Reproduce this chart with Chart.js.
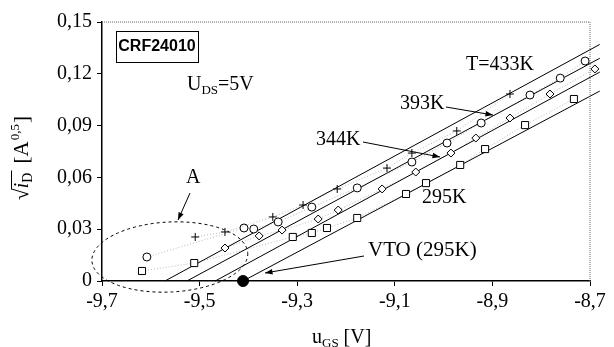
<!DOCTYPE html>
<html>
<head>
<meta charset="utf-8">
<script src="https://cdn.jsdelivr.net/npm/chart.js@4.4.0/dist/chart.umd.min.js"></script>
<style>
html, body { margin: 0; padding: 0; background: #fff; }
</style>
</head>
<body>
<canvas id="myChart" width="614" height="347"></canvas>
<script>
const x433 = [-9.509, -9.448, -9.350, -9.288, -9.218, -9.116, -9.065, -8.973, -8.864];
const y433 = [0.0255, 0.0284, 0.0371, 0.0440, 0.0533, 0.0654, 0.0741, 0.0869, 0.1083];
const x393 = [-9.608, -9.409, -9.389, -9.339, -9.270, -9.177, -9.065, -8.993, -8.923, -8.823, -8.761, -8.710];
const y393 = [0.0139, 0.0307, 0.0301, 0.0342, 0.0428, 0.0539, 0.0689, 0.0799, 0.0915, 0.1077, 0.1175, 0.1274];
const x344 = [-9.448, -9.378, -9.331, -9.257, -9.216, -9.126, -9.057, -8.985, -8.934, -8.864, -8.782, -8.690];
const y344 = [0.0191, 0.0261, 0.0295, 0.0359, 0.0411, 0.0533, 0.0631, 0.0741, 0.0828, 0.0944, 0.1083, 0.1228];
const x295 = [-9.618, -9.511, -9.309, -9.270, -9.239, -9.177, -9.077, -9.036, -8.966, -8.915, -8.833, -8.733];
const y295 = [0.0058, 0.0104, 0.0255, 0.0278, 0.0307, 0.0365, 0.0504, 0.0567, 0.0672, 0.0764, 0.0903, 0.1054];

// straight fits: start on the zero line, end just past the right border
const fitX0 = [-9.571, -9.526, -9.468, -9.411];
const fitX1 = [-8.68, -8.68, -8.68, -8.68];
const fitY1 = [0.137, 0.129, 0.121, 0.110];
const vto295 = -9.411;

const xTicks = [-9.7, -9.5, -9.3, -9.1, -8.9, -8.7];
const yTicks = [0, 0.03, 0.06, 0.09, 0.12, 0.15];

const toPts = (xs, ys) => xs.map((x, i) => ({ x: x, y: ys[i] }));

function markers(xs, ys, style, radius) {
    return {
        data: toPts(xs, ys),
        pointStyle: style,
        pointRadius: radius,
        pointBorderColor: '#000',
        pointBackgroundColor: '#fff',
        pointBorderWidth: 1,
        showLine: true,
        borderColor: 'rgba(0,0,0,0.28)',
        borderWidth: 1,
        borderDash: [1, 2],
        clip: false
    };
}

function fitLine(i) {
    return {
        data: [{ x: fitX0[i], y: 0 }, { x: fitX1[i], y: fitY1[i] }],
        showLine: true,
        borderColor: '#000',
        borderWidth: 1,
        pointRadius: 0,
        clip: false
    };
}

const serif = '"Liberation Serif", "Times New Roman", serif';

function arrow(ctx, x0, y0, x1, y1) {
    const a = Math.atan2(y1 - y0, x1 - x0);
    ctx.beginPath();
    ctx.moveTo(x0, y0);
    ctx.lineTo(x1, y1);
    ctx.stroke();
    ctx.beginPath();
    ctx.moveTo(x1, y1);
    ctx.lineTo(x1 - 8 * Math.cos(a - 0.35), y1 - 8 * Math.sin(a - 0.35));
    ctx.lineTo(x1 - 8 * Math.cos(a + 0.35), y1 - 8 * Math.sin(a + 0.35));
    ctx.closePath();
    ctx.fill();
}

// labels, arrows, region A, frame and axis titles
const notesPlugin = {
    id: 'notes',
    afterDraw: (chart) => {
        const ctx = chart.ctx;
        const ca = chart.chartArea;
        const sx = chart.scales.x, sy = chart.scales.y;
        ctx.save();

        // dotted top and right frame
        ctx.strokeStyle = '#666';
        ctx.lineWidth = 1;
        ctx.setLineDash([1, 1]);
        ctx.beginPath();
        ctx.moveTo(ca.left, ca.top);
        ctx.lineTo(ca.right, ca.top);
        ctx.lineTo(ca.right, ca.bottom);
        ctx.stroke();

        // region A
        ctx.strokeStyle = '#000';
        ctx.setLineDash([3, 3]);
        ctx.beginPath();
        ctx.ellipse(sx.getPixelForValue(-9.561), sy.getPixelForValue(0.0139), 78, 35, -0.05, 0, Math.PI * 2);
        ctx.stroke();
        ctx.setLineDash([]);

        // boxed device name
        ctx.fillStyle = '#fff';
        ctx.fillRect(116, 31, 82, 31);
        ctx.lineWidth = 1;
        ctx.strokeStyle = '#000';
        ctx.strokeRect(116.5, 31.5, 82, 31);
        ctx.fillStyle = '#000';
        ctx.font = 'bold 16px "Liberation Sans", Arial, sans-serif';
        ctx.textAlign = 'center';
        ctx.textBaseline = 'middle';
        ctx.fillText('CRF24010', 157, 47);

        ctx.font = '20px ' + serif;
        ctx.textAlign = 'left';
        // U_DS=5V
        ctx.fillText('U', 187, 85);
        let w = ctx.measureText('U').width;
        ctx.font = '13px ' + serif;
        ctx.fillText('DS', 187 + w, 91);
        let w2 = ctx.measureText('DS').width;
        ctx.font = '20px ' + serif;
        ctx.fillText('=5V', 187 + w + w2, 85);

        ctx.fillText('T=433K', 466, 65);
        ctx.fillText('393K', 400, 104);
        ctx.fillText('344K', 316, 140);
        ctx.fillText('295K', 422, 198);
        ctx.font = '21px ' + serif;
        ctx.fillText('VTO (295K)', 368, 250);
        ctx.font = '20px ' + serif;
        ctx.fillText('A', 186, 178);

        ctx.lineWidth = 1;
        arrow(ctx, 446, 107, 493, 115);
        arrow(ctx, 363, 142, 440, 157);
        arrow(ctx, 364, 256, 265, 273);
        arrow(ctx, 190, 193, 178, 220);

        // x title u_GS [V]
        ctx.font = '20px ' + serif;
        ctx.textBaseline = 'alphabetic';
        const xt = 312;
        ctx.fillText('u', xt, 343);
        w = ctx.measureText('u').width;
        ctx.font = '13px ' + serif;
        ctx.fillText('GS', xt + w, 347);
        w2 = ctx.measureText('GS').width;
        ctx.font = '20px ' + serif;
        ctx.fillText(' [V]', xt + w + w2, 343);

        // y title sqrt(i_D) [A^0,5]
        ctx.translate(28, 200);
        ctx.rotate(-Math.PI / 2);
        ctx.font = '21px ' + serif;
        ctx.fillText('\u221A', 0, 0);
        let p = ctx.measureText('\u221A').width;
        ctx.font = 'italic 21px ' + serif;
        ctx.fillText('i', p, 0);
        const wi = ctx.measureText('i').width;
        ctx.font = '14px ' + serif;
        ctx.fillText('D', p + wi, 4);
        const wd = ctx.measureText('D').width;
        ctx.beginPath();
        ctx.moveTo(p - 1, -16.5);
        ctx.lineTo(p + wi + wd + 2, -16.5);
        ctx.stroke();
        p += wi + wd + 9;
        ctx.font = '21px ' + serif;
        ctx.fillText('[A', p, 0);
        p += ctx.measureText('[A').width + 1;
        ctx.font = '13px ' + serif;
        ctx.fillText('0,5', p, -9);
        p += ctx.measureText('0,5').width + 1;
        ctx.font = '21px ' + serif;
        ctx.fillText(']', p, 0);

        ctx.restore();
    }
};

Chart.register(notesPlugin);

const ctx = document.getElementById('myChart').getContext('2d');
const myChart = new Chart(ctx, {
    type: 'scatter',
    data: {
        datasets: [
            markers(x433, y433, 'cross', 4),
            markers(x393, y393, 'circle', 4),
            markers(x344, y344, 'rectRot', 4),
            markers(x295, y295, 'rect', 5),
            {
                data: [{ x: vto295, y: 0 }],
                pointRadius: 5.5,
                pointBackgroundColor: '#000',
                pointBorderColor: '#000',
                clip: false
            },
            fitLine(0), fitLine(1), fitLine(2), fitLine(3)
        ]
    },
    options: {
        responsive: false,
        animation: false,
        layout: { padding: { top: 22, right: 24, left: 0, bottom: 0 } },
        plugins: {
            legend: { display: false },
            tooltip: { enabled: false }
        },
        scales: {
            x: {
                type: 'linear',
                min: -9.7,
                max: -8.7,
                afterBuildTicks: (s) => { s.ticks = xTicks.map(v => ({ value: v })); },
                afterFit: (s) => { s.height = 66; },
                ticks: {
                    color: '#000',
                    font: { family: serif, size: 20 },
                    padding: 4,
                    maxRotation: 0,
                    callback: (v) => v.toFixed(1).replace('.', ',')
                },
                grid: { drawOnChartArea: false, tickLength: 5, color: '#000' },
                border: { color: '#000', width: 1.5 }
            },
            y: {
                min: 0,
                max: 0.15,
                afterBuildTicks: (s) => { s.ticks = yTicks.map(v => ({ value: v })); },
                afterFit: (s) => { s.width = 102; },
                ticks: {
                    color: '#000',
                    font: { family: serif, size: 20 },
                    padding: 5,
                    callback: (v) => v === 0 ? '0' : v.toFixed(2).replace('.', ',')
                },
                grid: { drawOnChartArea: false, tickLength: 5, color: '#000' },
                border: { color: '#000', width: 1.5 }
            }
        }
    }
});
</script>
</body>
</html>
